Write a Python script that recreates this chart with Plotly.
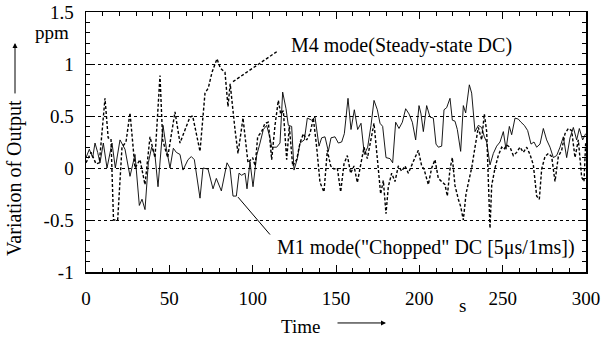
import plotly.graph_objects as go

# ---- data ----
m1_time = [0, 2, 4, 5.4, 7, 8.4, 10.4, 12.6, 15.6, 17.6, 20.4, 23.4, 26.4, 29.4, 32, 33.6, 35.4, 37.4, 39.4,
           41.4, 43.2, 46.2, 48.2, 50.4, 52.4, 54.2, 56.4, 58.2, 61.2, 63.2, 65, 68.4, 70.2, 73.2, 76.2, 78.2,
           81.2, 84.6, 86.4, 88.2, 90.2, 91.8, 93.4, 95.4, 96.6, 98.4, 100.2, 102.4, 104.4, 106.4, 108.4, 110.4,
           111.4, 114.4, 116.4, 118, 120, 121.4, 123.4, 124.8, 126.8, 128.4, 131, 132.8, 135.4, 137.4, 139.8,
           141.4, 143.4, 145.4, 147, 149.4, 151.4, 153.4, 155, 157.2, 159, 161, 163, 165, 167, 169, 171, 172.8,
           174.8, 176.4, 178, 180, 182.4, 184, 185.8, 187.8, 189.8, 191.8, 193.8, 195.8, 197.8, 199.8, 201,
           202.4, 204.4, 206.4, 208.4, 210, 211.4, 213.4, 214.8, 216.4, 218.4, 219.8, 221.4, 222.8, 224.8,
           226.4, 227.8, 230, 231.4, 233.4, 235.4, 237.4, 239, 240.4, 242.4, 244.4, 246.4, 248.4, 250.4, 252,
           254, 255.4, 257.4, 259.4, 261, 263, 265, 267, 268.8, 270.4, 272.4, 274.4, 276.4, 278.4, 280.4,
           282.4, 284.4, 286.4, 288.4, 290.4, 292.4, 294.4, 296, 298, 299.8]
m1_value = [0.10, 0.18, 0.10, 0.24, 0.15, 0.05, 0.24, 0.0, 0.24, 0.0, 0.27, 0.18, -0.08, 0.13, -0.36, -0.30,
            -0.40, 0.05, 0.20, 0.12, -0.18, 0.41, 0.19, 0.0, 0.19, 0.15, 0.13, -0.02, 0.08, 0.11, 0.08, -0.29,
            0.0, -0.01, -0.20, -0.10, -0.22, 0.05, 0.0, -0.27, -0.27, -0.05, -0.07, -0.05, -0.20, 0.06, -0.18,
            0.12, 0.24, 0.37, 0.41, 0.29, 0.20, 0.20, 0.24, 0.73, 0.57, 0.41, 0.40, -0.02, 0.09, 0.24, 0.27,
            0.48, 0.46, 0.49, 0.21, 0.29, 0.30, 0.16, 0.29, 0.30, 0.24, 0.25, 0.33, 0.67, 0.37, 0.56, 0.37,
            0.43, 0.13, 0.20, 0.41, 0.65, 0.56, 0.43, 0.40, 0.10, 0.09, 0.05, 0.44, 0.38, 0.44, 0.57, 0.52,
            0.44, 0.27, 0.60, 0.52, 0.35, 0.60, 0.49, 0.48, 0.23, 0.20, 0.21, 0.56, 0.58, 0.67, 0.46, 0.45,
            0.37, 0.16, 0.60, 0.53, 0.80, 0.72, 0.35, 0.41, 0.39, 0.30, 0.25, 0.03, 0.14, 0.21, 0.25, 0.35,
            0.18, 0.40, 0.32, 0.48, 0.47, 0.44, 0.41, 0.36, 0.23, 0.25, 0.20, 0.23, 0.38, 0.27, 0.20, 0.10,
            0.12, 0.20, 0.30, 0.10, 0.29, 0.39, 0.27, 0.38, 0.27, 0.33]

m4_time = [0, 3, 6, 8, 11.4, 13.3, 15, 16.5, 19, 21.6, 24, 26.4, 29.4, 32.4, 35.4, 38.4, 41.4, 44.4, 46, 49,
           53.4, 56.4, 59, 62.4, 64, 68.4, 71.4, 73.4, 75.6, 78.6, 80.6, 83.4, 85.2, 86.5, 89.4, 91.2, 94.2,
           97.2, 100, 101.5, 103, 105.4, 107.4, 109.4, 111.4, 113.4, 115.4, 116.8, 118.4, 120.4, 122, 124,
           126.4, 128.4, 130.4, 132.4, 134.4, 136.4, 138.4, 140.4, 142.8, 144.8, 146.8, 148.8, 150.8, 152.8,
           154.8, 156.8, 158.8, 160.8, 162.8, 164.8, 166.8, 168.8, 170.8, 172.8, 174.8, 176.8, 178.4, 180,
           181.4, 183.4, 185.4, 187.4, 189.4, 191.4, 193.4, 195.4, 197.4, 199.4, 201.4, 202.8, 205.4, 207.4,
           209.4, 211.4, 213.4, 215.4, 216.8, 218.4, 219.8, 221.4, 223.4, 224.8, 226.4, 228, 230, 231.4, 233.4,
           235.4, 237.4, 239, 240.4, 241.4, 242.4, 243.4, 245.4, 247.4, 249.4, 250.8, 252.4, 254.4, 256.4,
           258.4, 260.4, 262.4, 264.4, 266.4, 268.4, 270.4, 272, 273.4, 275.4, 277.4, 279.4, 281.4, 283.4,
           285.4, 287.4, 289.4, 291.4, 293.4, 295.4, 297.4, 298.8, 299.8]
m4_value = [0.05, 0.15, 0.04, 0.05, 0.67, 0.29, 0.28, -0.50, -0.50, 0.20, 0.25, 0.53, 0.0, 0.08, -0.16, 0.30,
            0.10, 0.89, 0.27, 0.10, 0.54, 0.24, 0.35, 0.49, 0.50, 0.16, 0.72, 0.77, 0.92, 1.05, 0.96, 0.92,
            0.59, 0.81, 0.37, 0.14, 0.48, 0.05, 0.10, 0.02, 0.30, 0.35, 0.43, 0.44, 0.08, 0.41, 0.65, 0.52,
            0.55, 0.08, 0.40, 0.02, 0.08, 0.24, 0.33, 0.27, 0.33, 0.48, 0.20, -0.14, -0.23, 0.17, 0.02, -0.01,
            0.0, -0.23, 0.04, 0.12, -0.05, 0.02, -0.14, 0.02, 0.20, 0.09, 0.27, 0.43, 0.09, -0.25, -0.12,
            -0.44, -0.18, -0.05, -0.13, 0.02, -0.03, 0.02, -0.05, 0.03, 0.10, 0.17, 0.02, -0.01, -0.16, 0.0,
            0.08, -0.10, -0.13, -0.16, -0.27, -0.01, 0.10, -0.17, -0.30, -0.37, -0.50, -0.25, -0.10, 0.0, 0.20,
            0.39, 0.27, 0.52, 0.35, -0.17, -0.58, -0.17, 0.0, 0.12, 0.20, 0.18, 0.22, 0.20, 0.12, 0.15, 0.20,
            0.15, 0.20, 0.13, 0.03, -0.27, -0.30, -0.01, 0.11, 0.14, 0.11, -0.13, 0.11, 0.17, 0.33, 0.38, 0.36,
            0.10, 0.27, -0.09, -0.13, 0.24]

x_tick_vals = [0, 50, 100, 150, 200, 250, 300]
x_tick_text = ["0", "50", "100", "150", "200", "250", "300"]
y_tick_vals = [-1, -0.5, 0, 0.5, 1, 1.5]
y_tick_text = ["-1", "-0.5", "0", "0.5", "1", "1.5"]

m4_label = "M4 mode(Steady-state DC)"
m1_label = "M1 mode(\"Chopped\" DC [5\u03bcs/1ms])"

FONT = "Liberation Serif, Times New Roman, serif"

fig = go.Figure()
fig.add_trace(go.Scatter(x=m1_time, y=m1_value, mode="lines", name="M1",
                         line=dict(color="black", width=0.9)))
fig.add_trace(go.Scatter(x=m4_time, y=m4_value, mode="lines", name="M4",
                         line=dict(color="black", width=1.4, dash="3px,2px")))
# invisible trace so the mirrored (top/right) tick axes are drawn
fig.add_trace(go.Scatter(x=m1_time[:1], y=m1_value[:1], xaxis="x2", yaxis="y2", mode="markers",
                         marker=dict(opacity=0), hoverinfo="skip", showlegend=False))

# leader lines to the labels
fig.add_shape(type="line", xref="x", yref="y", x0=88.2, y0=0.83, x1=114.6, y1=1.12,
              line=dict(color="black", width=1.4, dash="3px,2px"))
fig.add_shape(type="line", xref="x", yref="y", x0=91.2, y0=-0.28, x1=110.4, y1=-0.64,
              line=dict(color="black", width=1))

ann_font = dict(family=FONT, size=20, color="black")
annotations = [
    dict(text=m4_label, x=0.406, y=0.87, xref="paper", yref="paper", xanchor="left", yanchor="middle",
         showarrow=False, font=ann_font),
    dict(text=m1_label, x=0.378, y=0.096, xref="paper", yref="paper", xanchor="left", yanchor="middle",
         showarrow=False, font=ann_font),
    dict(text="ppm", x=-0.068, y=0.923, xref="paper", yref="paper", xanchor="center", yanchor="middle",
         showarrow=False, font=dict(family=FONT, size=19, color="black")),
    dict(text="s", x=0.752, y=-0.127, xref="paper", yref="paper", xanchor="center", yanchor="middle",
         showarrow=False, font=dict(family=FONT, size=19, color="black")),
    dict(text="Time", x=0.428, y=-0.208, xref="paper", yref="paper", xanchor="center", yanchor="middle",
         showarrow=False, font=dict(family=FONT, size=19, color="black")),
    dict(text="Variation of Output", x=-0.142, y=0.362, xref="paper", yref="paper", xanchor="center",
         yanchor="middle", textangle=-90, showarrow=False, font=ann_font),
    # arrows
    dict(text="", x=-0.142, y=0.881, xref="paper", yref="paper", ax=0, ay=52, showarrow=True,
         arrowhead=2, arrowsize=1, arrowwidth=1, arrowcolor="black"),
    dict(text="", x=0.6, y=-0.196, xref="paper", yref="paper", ax=-50, ay=0, showarrow=True,
         arrowhead=2, arrowsize=1, arrowwidth=1, arrowcolor="black"),
]

tick_common = dict(ticks="inside", ticklen=7, tickwidth=1, tickcolor="black", automargin=False,
                   showline=True, linecolor="black", linewidth=1.5, zeroline=False)

fig.update_layout(
    width=608, height=343,
    margin=dict(l=86, r=22, t=12, b=71),
    paper_bgcolor="white", plot_bgcolor="white",
    showlegend=False,
    font=dict(family=FONT, size=19, color="black"),
    annotations=annotations,
    xaxis=dict(range=[0, 300], tickvals=x_tick_vals, ticktext=x_tick_text, showgrid=False,
               ticklabelstandoff=9,
               minor=dict(dtick=10, tick0=0, ticks="inside", ticklen=4, tickcolor="black", showgrid=False),
               **tick_common),
    yaxis=dict(range=[-1, 1.5], tickvals=y_tick_vals, ticktext=y_tick_text,
               showgrid=True, gridcolor="black", gridwidth=1, griddash="3px,3px", ticklabelstandoff=7,
               minor=dict(dtick=0.1, tick0=0, ticks="inside", ticklen=4, tickcolor="black", showgrid=False),
               **tick_common),
    xaxis2=dict(range=[0, 300], overlaying="x", side="top", tickvals=x_tick_vals, showticklabels=False,
                showgrid=False,
                minor=dict(dtick=10, tick0=0, ticks="inside", ticklen=4, tickcolor="black", showgrid=False),
                **tick_common),
    yaxis2=dict(range=[-1, 1.5], overlaying="y", side="right", tickvals=y_tick_vals, showticklabels=False,
                showgrid=False,
                minor=dict(dtick=0.1, tick0=0, ticks="inside", ticklen=4, tickcolor="black", showgrid=False),
                **tick_common),
)

# remove the browser's default 8px page margin so the figure fills the window exactly
fig.write_html("out.html",
               config={"displayModeBar": False, "staticPlot": True},
               post_script="document.body.style.margin='0';document.body.style.overflow='hidden';")
